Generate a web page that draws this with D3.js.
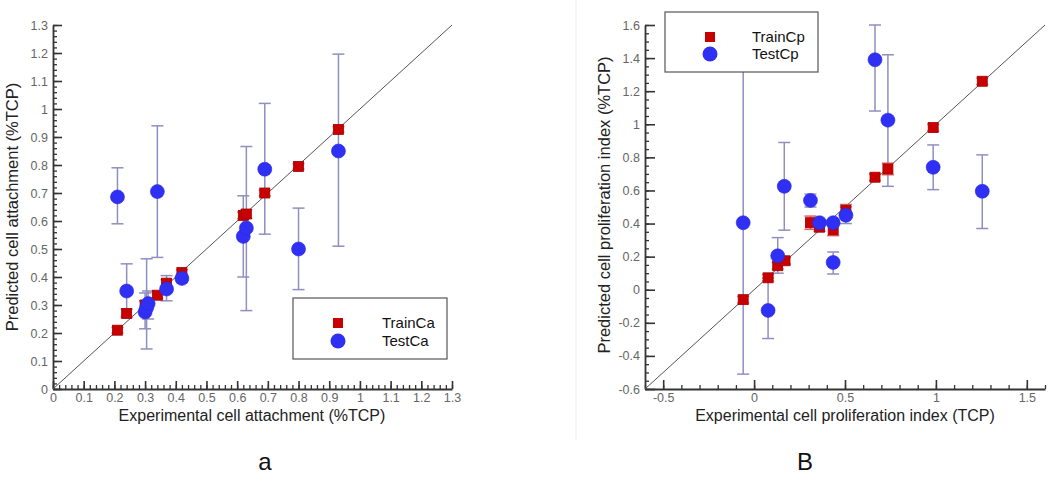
<!DOCTYPE html>
<html><head><meta charset="utf-8">
<script src="https://cdn.jsdelivr.net/npm/d3@7"></script>
<style>
html,body{margin:0;padding:0;background:#fff;}
svg{display:block;font-family:"Liberation Sans",Arial,sans-serif;}
</style></head>
<body>
<svg id="chart" width="1050" height="481"></svg>
<script>
// ---- Panel a: cell attachment ----
const trainCaX = [0.21, 0.24, 0.30, 0.34, 0.37, 0.42, 0.62, 0.63, 0.69, 0.80, 0.93];
const trainCaY = [0.21, 0.27, 0.30, 0.335, 0.378, 0.416, 0.62, 0.625, 0.70, 0.795, 0.927];
const trainCaErr = [0.01, 0.015, 0.015, 0.01, 0.012, 0.01, 0.012, 0.015, 0.01, 0.01, 0.01];
const testCaX = [0.21, 0.24, 0.30, 0.305, 0.31, 0.34, 0.37, 0.42, 0.62, 0.63, 0.69, 0.80, 0.93];
const testCaY = [0.686, 0.35, 0.275, 0.29, 0.305, 0.705, 0.357, 0.395, 0.545, 0.575, 0.785, 0.50, 0.85];
const testCaLo = [0.59, 0.26, 0.215, 0.143, 0.25, 0.47, 0.315, 0.38, 0.40, 0.28, 0.553, 0.355, 0.51];
const testCaHi = [0.79, 0.447, 0.343, 0.465, 0.35, 0.94, 0.405, 0.41, 0.69, 0.866, 1.02, 0.646, 1.196];
const ticksA = [0, 0.1, 0.2, 0.3, 0.4, 0.5, 0.6, 0.7, 0.8, 0.9, 1, 1.1, 1.2, 1.3];

// ---- Panel B: cell proliferation ----
const trainCpX = [-0.06, 0.077, 0.13, 0.17, 0.31, 0.36, 0.435, 0.505, 0.665, 0.736, 0.985, 1.255];
const trainCpY = [-0.06, 0.072, 0.145, 0.175, 0.405, 0.378, 0.362, 0.48, 0.68, 0.73, 0.98, 1.26];
const trainCpErr = [0.02, 0.02, 0.02, 0.02, 0.04, 0.025, 0.035, 0.035, 0.02, 0.035, 0.02, 0.02];
const testCpX = [-0.06, 0.077, 0.13, 0.166, 0.31, 0.36, 0.435, 0.435, 0.505, 0.665, 0.736, 0.985, 1.255];
const testCpY = [0.405, -0.125, 0.205, 0.625, 0.54, 0.405, 0.405, 0.165, 0.45, 1.39, 1.025, 0.74, 0.595];
const testCpLo = [-0.51, -0.295, 0.10, 0.36, 0.50, 0.39, 0.39, 0.095, 0.40, 1.08, 0.625, 0.605, 0.37];
const testCpHi = [1.34, 0.07, 0.315, 0.89, 0.578, 0.42, 0.42, 0.228, 0.50, 1.60, 1.42, 0.875, 0.815];
const ticksBX = [-0.5, 0, 0.5, 1, 1.5];
const ticksBY = [-0.6, -0.4, -0.2, 0, 0.2, 0.4, 0.6, 0.8, 1, 1.2, 1.4, 1.6];

const svg = d3.select("#chart");

// faint divider
svg.append("line").attr("x1",576).attr("x2",576).attr("y1",0).attr("y2",440)
  .attr("stroke","#ececec").attr("stroke-width",1);

function range(a, b, s){ const out=[]; for(let v=a; v<=b+1e-9; v+=s) out.push(+v.toFixed(4)); return out; }

function panel(cfg){
  const g = svg.append("g");
  const x = d3.scaleLinear().domain(cfg.xDom).range(cfg.xR);
  const y = d3.scaleLinear().domain(cfg.yDom).range(cfg.yR);
  const y0 = cfg.yR[0], x0 = cfg.xR[0];

  // minor ticks
  g.append("g").attr("transform",`translate(0,${y0})`)
    .call(d3.axisBottom(x).tickValues(cfg.xMinor).tickSize(-4).tickFormat(""))
    .call(a=>a.select(".domain").remove())
    .selectAll("line").attr("stroke","#333").attr("stroke-width",1.3);
  g.append("g").attr("transform",`translate(${x0},0)`)
    .call(d3.axisLeft(y).tickValues(cfg.yMinor).tickSize(-4).tickFormat(""))
    .call(a=>a.select(".domain").remove())
    .selectAll("line").attr("stroke","#333").attr("stroke-width",1.3);

  // major axes
  const fmt = d => (d===0 ? "0" : String(d));
  const ax = g.append("g").attr("transform",`translate(0,${y0})`)
    .call(d3.axisBottom(x).tickValues(cfg.xTicks).tickSize(-cfg.majX).tickSizeOuter(0).tickPadding(4).tickFormat(fmt));
  const ay = g.append("g").attr("transform",`translate(${x0},0)`)
    .call(d3.axisLeft(y).tickValues(cfg.yTicks).tickSize(-cfg.majY).tickSizeOuter(0).tickPadding(5).tickFormat(fmt));
  [ax, ay].forEach(a=>{
    a.select(".domain").attr("stroke","#333").attr("stroke-width",1.8);
    a.selectAll(".tick line").attr("stroke","#333").attr("stroke-width",1.6);
    a.selectAll(".tick text").attr("fill","#666").attr("font-size",12.5)
      .attr("font-family","'Liberation Sans',Arial,sans-serif");
  });

  // diagonal
  g.append("path").datum([cfg.xDom[0], cfg.xDom[1]])
    .attr("d", d3.line().x(d=>x(d)).y(d=>y(d)))
    .attr("stroke","#555").attr("stroke-width",1).attr("fill","none");

  // test error bars
  const te = cfg.testX.map((v,i)=>({x:v, y:cfg.testY[i], lo:cfg.testLo[i], hi:cfg.testHi[i]}));
  const tr = cfg.trainX.map((v,i)=>({x:v, y:cfg.trainY[i], e:cfg.trainErr[i]}));
  const eb = g.append("g").attr("stroke","#8f8fc0").attr("stroke-width",1.5).attr("fill","none");
  te.forEach(d=>{
    eb.append("line").attr("x1",x(d.x)).attr("x2",x(d.x)).attr("y1",y(d.lo)).attr("y2",y(d.hi));
    eb.append("line").attr("x1",x(d.x)-6).attr("x2",x(d.x)+6).attr("y1",y(d.lo)).attr("y2",y(d.lo));
    eb.append("line").attr("x1",x(d.x)-6).attr("x2",x(d.x)+6).attr("y1",y(d.hi)).attr("y2",y(d.hi));
  });
  // train points with small error bars
  const rb = g.append("g").attr("stroke","#e06060").attr("stroke-width",1.5).attr("fill","none");
  tr.forEach(d=>{
    rb.append("line").attr("x1",x(d.x)).attr("x2",x(d.x)).attr("y1",y(d.y-d.e)).attr("y2",y(d.y+d.e));
    rb.append("line").attr("x1",x(d.x)-6).attr("x2",x(d.x)+6).attr("y1",y(d.y-d.e)).attr("y2",y(d.y-d.e));
    rb.append("line").attr("x1",x(d.x)-6).attr("x2",x(d.x)+6).attr("y1",y(d.y+d.e)).attr("y2",y(d.y+d.e));
  });
  g.selectAll(".sq").data(tr).enter().append("rect")
    .attr("x",d=>x(d.x)-5).attr("y",d=>y(d.y)-5).attr("width",10).attr("height",10)
    .attr("fill","#c80000").attr("stroke","#a00000").attr("stroke-width",0.8);
  g.selectAll(".ci").data(te).enter().append("circle")
    .attr("cx",d=>x(d.x)).attr("cy",d=>y(d.y)).attr("r",7)
    .attr("fill","#3030f5").attr("stroke","#2a2ae0").attr("stroke-width",0.6);

  // axis titles
  g.append("text").attr("x",cfg.xtX).attr("y",cfg.xtY).attr("text-anchor","middle")
    .attr("font-size",16).attr("fill","#222").text(cfg.xTitle);
  g.append("text").attr("transform",`translate(${cfg.ytX},${cfg.ytY}) rotate(-90)`)
    .attr("text-anchor","middle").attr("font-size",16.5).attr("fill","#222").text(cfg.yTitle);

  // legend
  const L = cfg.legend;
  g.append("rect").attr("x",L.x).attr("y",L.y).attr("width",L.w).attr("height",L.h)
    .attr("fill","#fff").attr("stroke","#555").attr("stroke-width",1.2);
  g.append("rect").attr("x",L.mx-5).attr("y",L.r1-5).attr("width",10).attr("height",10)
    .attr("fill","#c80000");
  g.append("circle").attr("cx",L.mx).attr("cy",L.r2).attr("r",7.5).attr("fill","#3030f5");
  g.append("text").attr("x",L.tx).attr("y",L.r1).attr("dy","0.35em").attr("font-size",15)
    .attr("fill","#111").text(cfg.names[0]);
  g.append("text").attr("x",L.tx).attr("y",L.r2).attr("dy","0.35em").attr("font-size",15)
    .attr("fill","#111").text(cfg.names[1]);

  svg.append("text").attr("x",cfg.tagX).attr("y",470).attr("text-anchor","middle")
    .attr("font-size",24).attr("fill","#111").text(cfg.tag);
}

panel({
  xDom:[0,1.3], yDom:[0,1.3], xR:[53,452], yR:[389,25],
  xTicks:ticksA, yTicks:ticksA, xMinor:range(0,1.3,0.02), yMinor:range(0,1.3,0.02),
  majX:8, majY:9,
  trainX:trainCaX, trainY:trainCaY, trainErr:trainCaErr,
  testX:testCaX, testY:testCaY, testLo:testCaLo, testHi:testCaHi,
  xTitle:"Experimental cell attachment (%TCP)", xtX:252, xtY:421,
  yTitle:"Predicted cell attachment (%TCP)", ytX:18, ytY:207,
  legend:{x:293,y:298,w:154,h:61,mx:338,r1:323,r2:341,tx:382},
  names:["TrainCa","TestCa"], tag:"a", tagX:265
});

panel({
  xDom:[-0.6,1.6], yDom:[-0.6,1.6], xR:[645,1045], yR:[389,25],
  xTicks:ticksBX, yTicks:ticksBY, xMinor:range(-0.6,1.6,0.1), yMinor:range(-0.6,1.6,0.05),
  majX:9, majY:10,
  trainX:trainCpX, trainY:trainCpY, trainErr:trainCpErr,
  testX:testCpX, testY:testCpY, testLo:testCpLo, testHi:testCpHi,
  xTitle:"Experimental cell proliferation index (TCP)", xtX:845, xtY:421,
  yTitle:"Predicted cell proliferation index (%TCP)", ytX:610, ytY:205,
  legend:{x:665,y:12,w:153,h:60,mx:710,r1:37,r2:54,tx:752},
  names:["TrainCp","TestCp"], tag:"B", tagX:805
});
</script>
</body></html>
